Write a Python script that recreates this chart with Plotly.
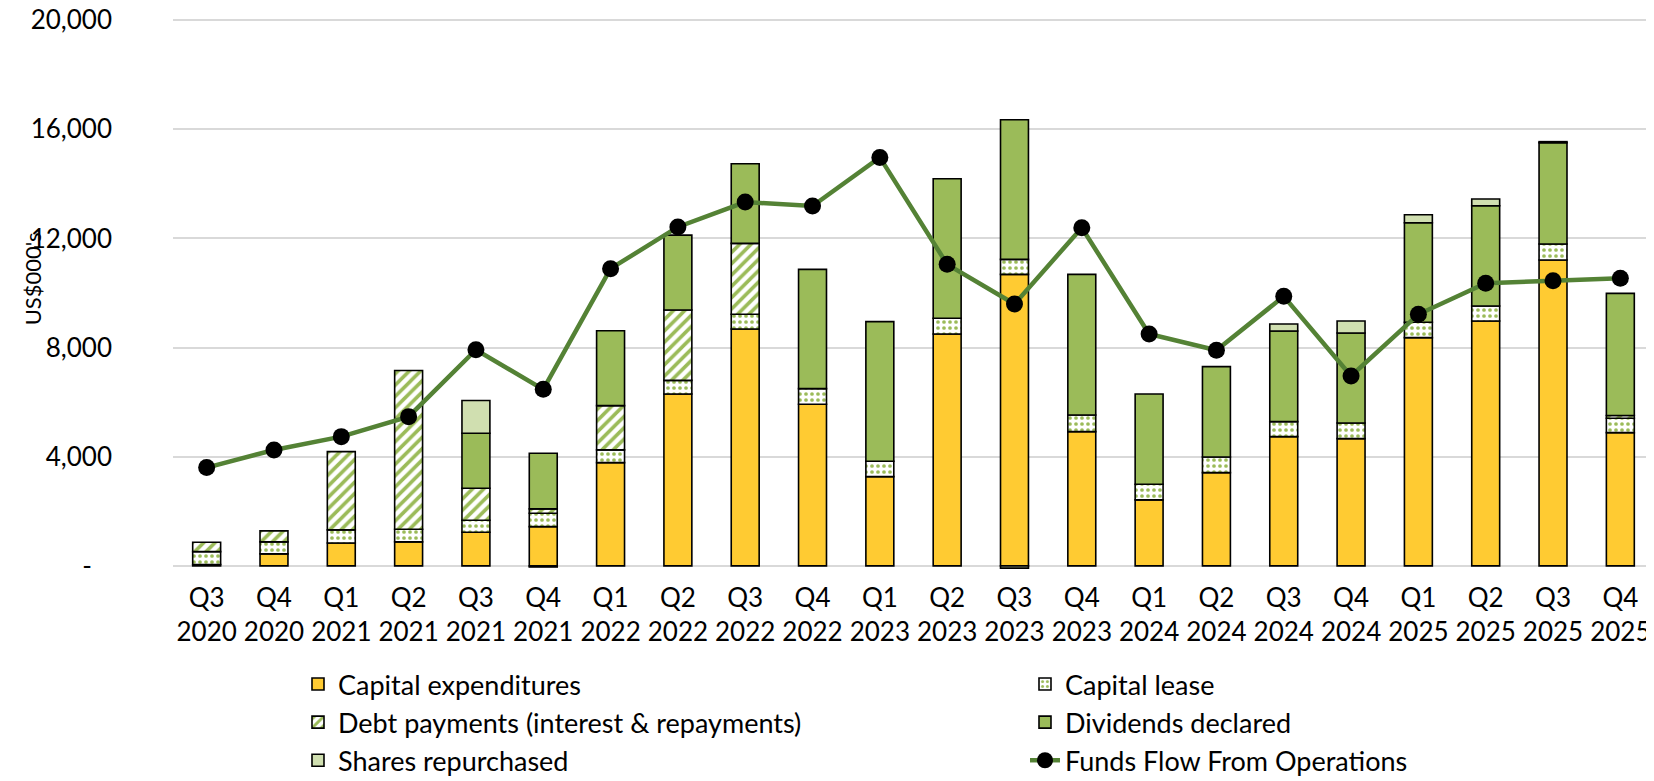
import plotly.graph_objects as go

quarters = ["Q3<br>2020", "Q4<br>2020", "Q1<br>2021", "Q2<br>2021", "Q3<br>2021", "Q4<br>2021",
            "Q1<br>2022", "Q2<br>2022", "Q3<br>2022", "Q4<br>2022", "Q1<br>2023", "Q2<br>2023",
            "Q3<br>2023", "Q4<br>2023", "Q1<br>2024", "Q2<br>2024", "Q3<br>2024", "Q4<br>2024",
            "Q1<br>2025", "Q2<br>2025", "Q3<br>2025", "Q4<br>2025"]

capital_expenditures = [50, 440, 842, 879, 1233, 1441, 3785, 6300, 8681, 5922, 3272, 8498,
                        10684, 4921, 2418, 3418, 4737, 4664, 8364, 8974, 11209, 4884]
capital_lease = [475, 440, 477, 464, 440, 488, 465, 500, 538, 573, 562, 574,
                 549, 610, 573, 575, 550, 574, 562, 550, 586, 525]
debt_payments = [342, 402, 2869, 5817, 1172, 159, 1623, 2577, 2599, None, None, None,
                 None, None, None, None, None, None, None, None, None, 100]
dividends_declared = [None, None, None, None, 2015, 2039, 2742, 2743, 2919, 4372, 5116, 5116,
                      5117, 5153, 3309, 3309, 3321, 3297, 3649, 3674, 3711, 4479]
shares_repurchased = [None, None, None, None, 1200, -40, None, None, None, None, None, None,
                      -80, None, None, None, 256, 440, 293, 245, 40, None]
funds_flow = [3602, 4249, 4737, 5470, 7920, 6470, 10890, 12420, 13333, 13187, 14969, 11050,
              9597, 12392, 8498, 7900, 9878, 6960, 9219, 10360, 10446, 10537]

y_tickvals = [0, 4000, 8000, 12000, 16000, 20000]
y_ticktext = ["-\u00a0\u00a0\u00a0", "4,000", "8,000", "12,000", "16,000", "20,000"]

YELLOW = "#FFCB32"
GREEN = "#9BBB59"
LIGHT_GREEN = "#D0DFB0"
LINE_GREEN = "#548235"
FONT = "Lato"

outline = dict(color="#000000", width=1.6)

fig = go.Figure()
fig.add_trace(go.Bar(name="Capital expenditures", x=quarters, y=capital_expenditures,
                     marker=dict(color=YELLOW, line=outline)))
fig.add_trace(go.Bar(name="Capital lease", x=quarters, y=capital_lease,
                     marker=dict(color="white", line=outline,
                                 pattern=dict(shape=".", fgcolor=GREEN, bgcolor="white",
                                              fillmode="replace", size=6, solidity=0.3))))
fig.add_trace(go.Bar(name="Debt payments (interest & repayments)", x=quarters, y=debt_payments,
                     marker=dict(color="white", line=outline,
                                 pattern=dict(shape="/", fgcolor=GREEN, bgcolor="white",
                                              fillmode="replace", size=8, solidity=0.45))))
fig.add_trace(go.Bar(name="Dividends declared", x=quarters, y=dividends_declared,
                     marker=dict(color=GREEN, line=outline)))
fig.add_trace(go.Bar(name="Shares repurchased", x=quarters, y=shares_repurchased,
                     marker=dict(color=LIGHT_GREEN, line=outline)))
fig.add_trace(go.Scatter(name="Funds Flow From Operations", x=quarters, y=funds_flow,
                         mode="lines+markers",
                         line=dict(color=LINE_GREEN, width=4.5),
                         marker=dict(color="black", size=17, line=dict(width=0))))

# the page body adds an 8px margin, so the figure is 8px smaller than the window
fig.update_layout(
    width=1646, height=773,
    barmode="relative",
    bargap=0.585,
    plot_bgcolor="white",
    paper_bgcolor="white",
    font=dict(family=FONT, color="#000000"),
    margin=dict(l=165, r=0, t=11, b=211, autoexpand=False),
    showlegend=True,
    legend=dict(orientation="h", x=0.0844, xanchor="left", y=-0.1633, yanchor="top",
                traceorder="normal", entrywidth=682, entrywidthmode="pixels",
                font=dict(family=FONT, size=27, color="#000000"),
                bgcolor="rgba(0,0,0,0)"),
    xaxis=dict(range=[-0.5, 21.5], showgrid=False, showline=False, ticks="",
               tickfont=dict(family=FONT, size=26, color="#000000"),
               ticklabelstandoff=10, tickangle=0),
    yaxis=dict(range=[-150, 20040], tickvals=y_tickvals, ticktext=y_ticktext,
               showgrid=True, gridcolor="#D9D9D9", gridwidth=1.5,
               zeroline=False, showline=False, ticks="",
               ticklabelstandoff=60, ticklabeloverflow="allow",
               tickfont=dict(family=FONT, size=26, color="#000000")),
    annotations=[dict(text="US$000's", xref="paper", yref="y",
                      x=-0.0952, y=10500, xanchor="center", yanchor="middle",
                      textangle=-90, showarrow=False,
                      font=dict(family=FONT, size=22, color="#000000"))],
)

fig.write_html("out.html")
